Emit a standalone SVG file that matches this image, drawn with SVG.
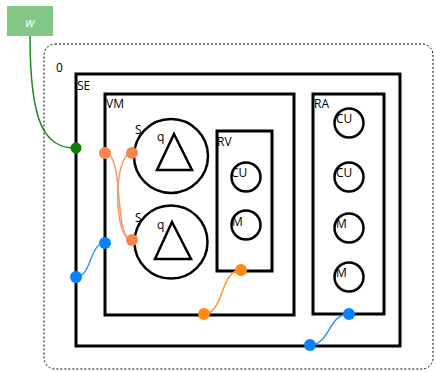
<svg xmlns="http://www.w3.org/2000/svg" width="436" height="372" viewBox="0 0 436 372">
<style>
.box{fill:none;stroke:#000;stroke-width:3}
.c{fill:none;stroke:#000;stroke-width:2.5}
.lbl{font-family:"Open Sans","Noto Sans",sans-serif;font-size:12px;fill:#000}
.con{fill:none;stroke-width:1.5}
</style>
<rect width="436" height="372" fill="#fff"/>
<g id="w">
<rect x="7" y="6" width="46" height="30" fill="#82c884"/>
<text x="30" y="27" text-anchor="middle" font-family="Open Sans, sans-serif" font-size="13" font-style="italic" fill="#fff">w</text>
</g>
<g id="n0">
<rect x="44" y="44" width="389" height="325" rx="11" fill="none" stroke="#000" stroke-width="1" stroke-dasharray="2,2"/>
<text class="lbl" x="56" y="72" font-size="13">0</text>
</g>
<g id="SE">
<rect class="box" x="76" y="74" width="324" height="272"/>
<text class="lbl" x="77" y="90">SE</text>
</g>
<g id="VM">
<rect class="box" x="105" y="94" width="189" height="221"/>
<text class="lbl" x="106" y="108">VM</text>
</g>
<g id="S1">
<circle class="c" cx="171" cy="156" r="37"/>
<polygon class="c" points="174,134 157,170 192,170"/>
<text class="lbl" x="135" y="134">S</text>
<text class="lbl" x="157" y="141">q</text>
</g>
<g id="S2">
<circle class="c" cx="171" cy="242" r="36.5"/>
<polygon class="c" points="172,222 155,259 191,259"/>
<text class="lbl" x="135" y="222">S</text>
<text class="lbl" x="157" y="229">q</text>
</g>
<g id="RV">
<rect class="box" x="217" y="131" width="55" height="140"/>
<text class="lbl" x="217" y="146">RV</text>
<circle class="c" cx="246" cy="177" r="14.5"/>
<text class="lbl" x="231" y="177">CU</text>
<circle class="c" cx="246" cy="225" r="14.5"/>
<text class="lbl" x="232" y="226">M</text>
</g>
<g id="RA">
<rect class="box" x="313" y="94" width="71" height="220"/>
<text class="lbl" x="314" y="108">RA</text>
<circle class="c" cx="349" cy="123" r="14.5"/>
<text class="lbl" x="336" y="123">CU</text>
<circle class="c" cx="349" cy="177" r="14.5"/>
<text class="lbl" x="336" y="177">CU</text>
<circle class="c" cx="349" cy="228" r="14.5"/>
<text class="lbl" x="336" y="228">M</text>
<circle class="c" cx="349" cy="277" r="14.5"/>
<text class="lbl" x="336" y="277">M</text>
</g>
<g id="connectors">
<path class="con" d="M30,36 C30,125 45,148 76,148" stroke="#1a8c1a"/>
<path class="con" d="M105,153 C125,153 113,240 132,240" stroke="#f59a6a"/>
<path class="con" d="M132,153 C113,153 113,240 132,240" stroke="#f59a6a"/>
<path class="con" d="M76,277 C92,277 89,243 105,243" stroke="#3a96ff"/>
<path class="con" d="M204,314 C224,314 220,270 241,270" stroke="#ff9a3a"/>
<path class="con" d="M310,345 C330,345 328,314 349,314" stroke="#2a8cff"/>
<circle cx="76" cy="148" r="5.5" fill="#0b7d0b"/>
<circle cx="105" cy="153" r="6" fill="#f7844a"/>
<circle cx="132" cy="153" r="6" fill="#f7844a"/>
<circle cx="132" cy="240" r="6" fill="#f7844a"/>
<circle cx="105" cy="243" r="6" fill="#0a82ff"/>
<circle cx="76" cy="277" r="6" fill="#0a82ff"/>
<circle cx="241" cy="270" r="6" fill="#ff8a12"/>
<circle cx="204" cy="314" r="6" fill="#ff8a12"/>
<circle cx="349" cy="314" r="6" fill="#0a82ff"/>
<circle cx="310" cy="345" r="6" fill="#0a82ff"/>
</g>
</svg>
